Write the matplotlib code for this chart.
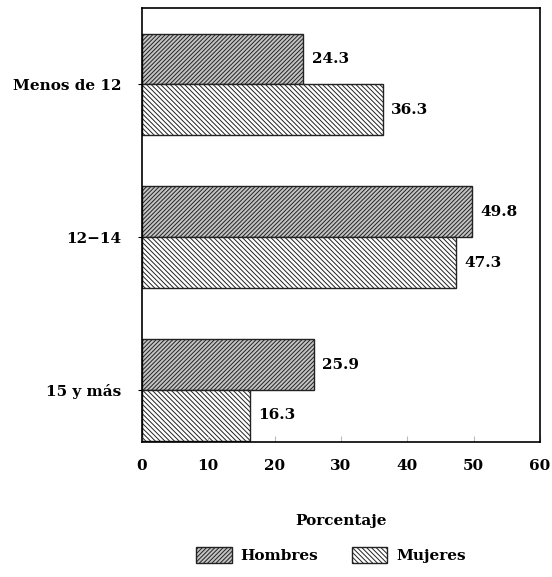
import matplotlib.pyplot as plt
import numpy as np

plt.rcParams['font.family'] = ['DejaVu Serif']
plt.rcParams['font.weight'] = 'bold'
plt.rcParams['hatch.linewidth'] = 0.7

# Data
categories = ['Menos de 12', '12\u221214', '15 y más']
hombres = [24.3, 49.8, 25.9]
mujeres = [36.3, 47.3, 16.3]
xticks = [0, 10, 20, 30, 40, 50, 60]

fig = plt.figure(figsize=(5.52, 5.77), dpi=100)
ax = fig.add_axes([0.257, 0.234, 0.721, 0.752])

y = np.arange(len(categories))
h = 0.333

plt.rcParams['hatch.color'] = '#333333'
bh = ax.barh(y - h / 2, hombres, height=h, color='#c4c4c4', edgecolor='#222222',
             hatch='////////', linewidth=1.0, label='Hombres')
plt.rcParams['hatch.color'] = '#555555'
bm = ax.barh(y + h / 2, mujeres, height=h, color='white', edgecolor='#555555',
             hatch='\\\\\\\\\\\\\\', linewidth=1.0, label='Mujeres')
for b in bm:
    b.set_edgecolor('#222222')

for yi, v in zip(y, hombres):
    ax.text(v + 1.3, yi - h / 2, f'{v:.1f}', va='center', ha='left', fontsize=11,
            fontweight='bold')
for yi, v in zip(y, mujeres):
    ax.text(v + 1.3, yi + h / 2, f'{v:.1f}', va='center', ha='left', fontsize=11,
            fontweight='bold')

ax.set_xlim(0, 60)
ax.set_ylim(2.34, -0.5)
ax.set_xticks(xticks)
ax.set_xticklabels([str(t) for t in xticks], fontsize=11, fontweight='bold')
ax.set_yticks(y)
ax.set_yticklabels(categories, fontsize=11, fontweight='bold')
ax.tick_params(axis='x', direction='in', length=4, color='#bbbbbb', pad=12)
ax.tick_params(axis='y', direction='out', length=3, pad=12)
for s in ax.spines.values():
    s.set_linewidth(1.2)

ax.set_xlabel('Porcentaje', fontsize=11, fontweight='bold', labelpad=30)

fig.legend(handles=[bh, bm], labels=['Hombres', 'Mujeres'], loc='center',
           bbox_to_anchor=(0.6, 0.038), ncol=2, frameon=False, fontsize=11,
           handlelength=2.3, handleheight=1.2, columnspacing=2.2, handletextpad=0.6)

fig.savefig('out.png', dpi=100)
